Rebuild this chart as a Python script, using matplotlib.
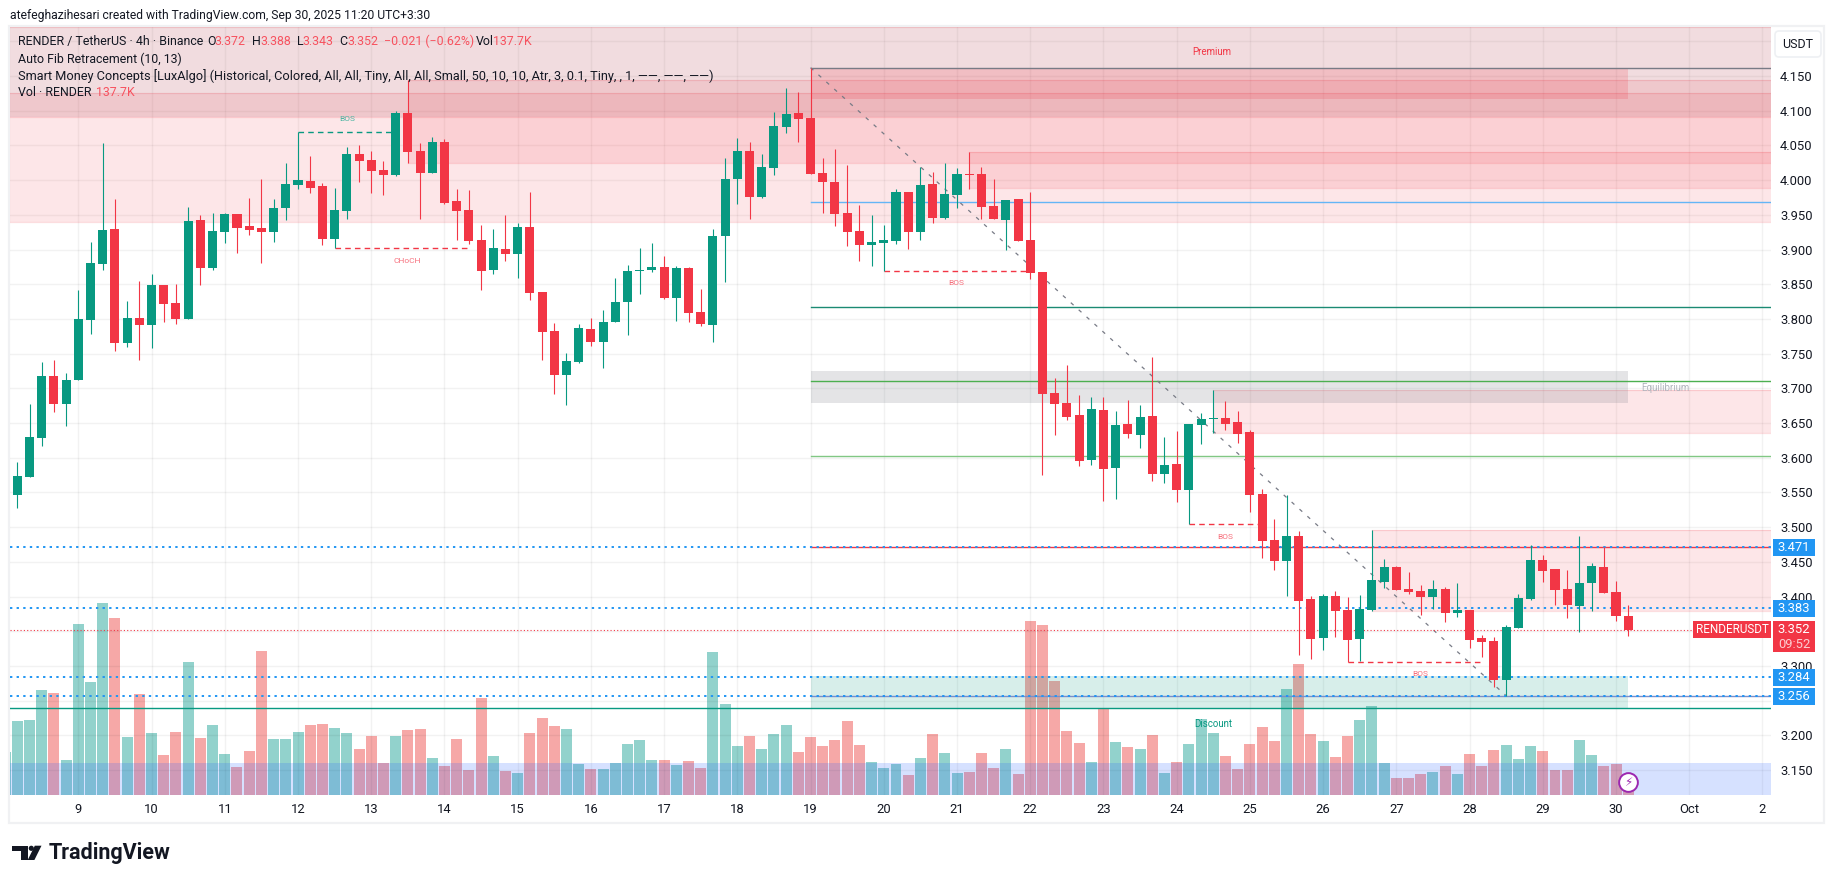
import matplotlib
matplotlib.use("Agg")
import matplotlib.pyplot as plt
from matplotlib.patches import Rectangle, Polygon, Circle, FancyBboxPatch
from matplotlib.transforms import blended_transform_factory

# ---------- data ----------
opens = [3.546,3.572,3.628,3.718,3.677,3.712,3.798,3.879,3.930,3.765,
3.801,3.791,3.849,3.823,3.800,3.943,3.873,3.925,3.951,3.934,
3.931,3.925,3.960,3.993,3.999,3.991,3.915,3.955,4.038,4.029,
4.015,4.007,4.097,4.042,4.010,4.055,3.970,3.957,3.914,3.870,
3.901,3.893,3.932,3.839,3.783,3.719,3.738,3.785,3.767,3.796,
3.824,3.869,3.871,3.875,3.830,3.873,3.810,3.791,3.920,4.002,
4.042,3.976,4.017,4.077,4.097,4.090,4.010,3.997,3.953,3.927,
3.907,3.909,3.912,3.983,3.925,3.994,3.945,3.979,4.009,4.009,
3.963,3.943,3.973,3.914,3.868,3.693,3.679,3.662,3.597,3.669,
3.585,3.649,3.633,3.660,3.577,3.591,3.553,3.647,3.656,3.657,
3.651,3.637,3.548,3.481,3.451,3.487,3.396,3.340,3.401,3.381,
3.339,3.381,3.421,3.443,3.411,3.408,3.399,3.411,3.376,3.381,
3.340,3.336,3.280,3.355,3.396,3.453,3.440,3.411,3.386,3.419,
3.443,3.407,3.372]
closes = [3.574,3.630,3.718,3.677,3.712,3.800,3.880,3.928,3.765,3.801,
3.791,3.849,3.821,3.800,3.941,3.873,3.927,3.951,3.931,3.928,
3.925,3.960,3.994,4.000,3.989,3.915,3.957,4.038,4.028,4.013,
4.007,4.097,4.040,4.010,4.055,3.967,3.955,3.912,3.869,3.902,
3.893,3.932,3.837,3.781,3.719,3.739,3.787,3.767,3.796,3.824,
3.869,3.870,3.875,3.830,3.873,3.809,3.793,3.920,4.002,4.042,
3.976,4.019,4.078,4.095,4.088,4.009,3.997,3.951,3.925,3.907,
3.911,3.914,3.983,3.925,3.993,3.945,3.980,4.009,4.007,3.961,
3.944,3.971,3.912,3.866,3.692,3.677,3.659,3.595,3.670,3.584,
3.647,3.634,3.659,3.577,3.590,3.553,3.649,3.656,3.657,3.649,
3.634,3.546,3.480,3.451,3.487,3.394,3.339,3.401,3.379,3.337,
3.382,3.424,3.443,3.409,3.407,3.399,3.411,3.376,3.381,3.337,
3.334,3.280,3.356,3.398,3.453,3.437,3.409,3.388,3.419,3.444,
3.405,3.372,3.352]
highs = [3.594,3.677,3.738,3.741,3.722,3.842,3.911,4.053,3.973,3.826,
3.855,3.865,3.849,3.850,3.961,3.950,3.953,3.953,3.951,3.974,
4.002,3.973,4.025,4.070,4.035,3.996,3.989,4.048,4.051,4.042,
4.028,4.100,4.144,4.053,4.062,4.059,3.987,3.986,3.935,3.930,
3.950,3.938,3.983,3.839,3.794,3.751,3.793,3.801,3.813,3.859,
3.878,3.902,3.909,3.891,3.876,3.875,3.843,3.930,4.032,4.061,
4.055,4.038,4.098,4.133,4.127,4.162,4.032,4.045,4.022,3.964,
3.950,3.935,3.987,3.983,4.019,4.012,4.025,4.017,4.041,4.019,
4.002,3.971,3.973,3.983,3.868,3.715,3.734,3.690,3.688,3.688,
3.667,3.683,3.676,3.745,3.630,3.639,3.649,3.664,3.697,3.682,
3.667,3.640,3.555,3.512,3.546,3.494,3.401,3.404,3.408,3.399,
3.402,3.496,3.454,3.444,3.435,3.417,3.424,3.414,3.419,3.381,
3.345,3.342,3.359,3.404,3.474,3.460,3.440,3.438,3.487,3.448,
3.471,3.422,3.388]
lows = [3.528,3.572,3.617,3.666,3.646,3.712,3.778,3.870,3.754,3.759,
3.741,3.758,3.796,3.793,3.800,3.849,3.870,3.909,3.895,3.921,
3.881,3.911,3.942,3.987,3.981,3.906,3.902,3.944,3.997,3.981,
3.979,4.006,4.025,3.944,4.010,3.966,3.914,3.908,3.842,3.865,
3.883,3.859,3.827,3.741,3.692,3.676,3.736,3.761,3.729,3.796,
3.777,3.836,3.868,3.829,3.797,3.796,3.790,3.767,3.853,3.966,
3.944,3.974,4.007,4.068,4.055,4.009,3.953,3.934,3.905,3.883,
3.876,3.869,3.908,3.901,3.914,3.938,3.944,3.960,3.987,3.944,
3.944,3.899,3.912,3.858,3.575,3.633,3.654,3.588,3.590,3.538,
3.541,3.628,3.614,3.567,3.564,3.536,3.504,3.620,3.636,3.640,
3.621,3.522,3.455,3.438,3.401,3.316,3.310,3.323,3.342,3.305,
3.307,3.379,3.412,3.409,3.404,3.373,3.382,3.363,3.370,3.326,
3.313,3.270,3.257,3.355,3.395,3.421,3.388,3.369,3.349,3.379,
3.405,3.365,3.343]
volumes_k = [666,675,945,918,315,1539,1017,1728,1593,522,
909,558,360,567,1197,513,630,369,252,396,
1296,504,504,567,630,639,603,558,414,531,
288,531,585,594,333,261,504,225,873,351,
216,198,558,693,621,594,279,234,234,288,
459,495,315,315,270,306,243,1287,819,441,
531,414,549,630,387,522,441,495,666,450,
297,243,279,180,333,549,378,198,207,378,
243,414,189,1566,1530,1026,576,468,297,774,
477,432,414,540,198,297,459,684,558,351,
234,459,612,486,954,1179,549,486,342,531,
675,801,288,153,153,189,207,261,189,369,
261,405,450,324,441,396,225,225,495,360,
261,279,137.7]
volume_before_first = 387

day_bars = [5,11,17,23,29,35,41,47,53,59,65,71,77,83,89,95,101,107,113,119,125,131,137,143]
day_labels = ['9','10','11','12','13','14','15','16','17','18','19','20','21','22','23','24',
              '25','26','27','28','29','30','Oct','2']
price_ticks = [3.15,3.20,3.25,3.30,3.35,3.40,3.45,3.50,3.55,3.60,3.65,3.70,3.75,3.80,3.85,3.90,3.95,4.00,4.05,4.10,4.15,4.20]
price_labels = ['3.150','3.200','','3.300','','3.400','3.450','3.500','3.550','3.600','3.650','3.700',
                '3.750','3.800','3.850','3.900','3.950','4.000','4.050','4.100','4.150','']

alert_levels = [3.471,3.383,3.284,3.256]
last_price = 3.352

# zones: first bar, last bar (None = chart edge), low, high
red_zones = [(None,None,3.940,4.2206),(None,None,4.091,4.125),(32,None,4.025,4.144),
             (78,None,3.988,4.040),(98,None,3.636,3.697),(111,None,3.379,3.496)]
premium_fill = (None,None,4.091,4.2206)
premium_box = (65,132,4.117,4.162)
equilibrium_box = (65,132,3.679,3.725)
discount_box = (65,132,3.239,3.285)
blue_box = (None,None,3.114,3.160)
fib_levels = [(4.162,'#787b86'),(3.969,'#64b5f6'),(3.817,'#1b8a73'),(3.710,'#4caf50'),
              (3.603,'#81c784'),(3.471,'#f23645'),(3.256,'#7e8ec8')]
trend_start = (65,4.162)
trend_end = (122,3.257)
structure = [(23,31,4.070,'BOS','g',347,118.7),(26,37,3.902,'CHoCH','r',407,260.7),
             (71,83,3.869,'BOS','r',956.7,282.7),(96,102,3.504,'BOS','r',1225,536.7),
             (109,120,3.305,'BOS','r',1420.6,674.3)]

# ---------- style ----------
W, H = 1835, 883
GREEN, RED, BLUE = '#089981', '#f23645', '#2196f3'
FONT = 'Roboto'
plt.rcParams['font.family'] = FONT
fig = plt.figure(figsize=(W/100, H/100), dpi=100, facecolor='white')
L, R, T, B = 10, 1771, 27, 795
ax2 = fig.add_axes([L/W, 1-B/H, (R-L)/W, (B-T)/H])
ax = fig.add_axes([L/W, 1-B/H, (R-L)/W, (B-T)/H], sharex=None)
ax.set_zorder(2); ax2.set_zorder(1); ax.patch.set_visible(False)
XMIN, XMAX = -0.6, 143.7
ax.set_xlim(XMIN, XMAX); ax2.set_xlim(XMIN, XMAX)
ax.set_ylim(3.114, 4.2206); ax2.set_ylim(0, 6912)
ax2.axis('off')

def px(x, y):
    return x/W, 1-y/H

def ftext(x, y, s, **kw):
    kw.setdefault('va', 'center'); kw.setdefault('color', '#131722'); kw.setdefault('fontsize', 8.9)
    fx, fy = px(x, y)
    return fig.text(fx, fy, s, **kw)

# volume
nb = len(opens)
vx = list(range(-1, nb))
vc = [GREEN] + [GREEN if c >= o else RED for o, c in zip(opens, closes)]
vc = [('#26a69a' if c == GREEN else '#ef5350') for c in vc]
ax2.bar(vx, [volume_before_first] + volumes_k, width=0.9, color=vc, alpha=0.5, linewidth=0)

# grid
ax.set_yticks(price_ticks); ax.set_yticklabels(price_labels)
ax.set_xticks(day_bars); ax.set_xticklabels(day_labels)
ax.yaxis.tick_right()
ax.tick_params(axis='y', length=0, pad=6.5, labelsize=9.4, labelcolor='#131722')
ax.tick_params(axis='x', length=0, pad=6, labelsize=9.4, labelcolor='#131722')
ax.grid(True, color='black', alpha=0.05, lw=1.0, zorder=0)
ax.set_axisbelow(True)
for s in ax.spines.values():
    s.set_visible(False)

def zone(z, color, alpha, edge=True, zo=1):
    a, b, lo, hi = z
    a = XMIN if a is None else a
    b = XMAX if b is None else b
    ax.add_patch(Rectangle((a, lo), b-a, hi-lo, facecolor=color, alpha=alpha, lw=0, zorder=zo))
    if edge:
        ax.plot([a, b], [lo, lo], color=color, alpha=alpha+0.05, lw=0.9, zorder=zo)
        ax.plot([a, b], [hi, hi], color=color, alpha=alpha+0.05, lw=0.9, zorder=zo)

for z in red_zones:
    zone(z, RED, 0.12)
zone(premium_fill, '#787b86', 0.09, edge=False)
zone(premium_box, RED, 0.18, edge=False)
zone(equilibrium_box, '#787b86', 0.20, edge=False)
zone(discount_box, GREEN, 0.16, edge=False)
zone(blue_box, '#2962ff', 0.19, edge=False, zo=1)

# fib levels
for p, c in fib_levels:
    ax.plot([65, XMAX], [p, p], color=c, lw=1.0, zorder=2)
ax.plot([XMIN, XMAX], [3.239, 3.239], color=GREEN, lw=1.0, zorder=2)
ax.plot([trend_start[0], trend_end[0]], [trend_start[1], trend_end[1]], color='#787b86',
        lw=0.9, ls=(0, (3, 5.5)), zorder=2.2)

# alert + price lines
for p in alert_levels:
    ax.plot([XMIN, XMAX], [p, p], color=BLUE, lw=1.4, ls=(0, (1.2, 2.2)), zorder=2.4)
ax.plot([XMIN, XMAX], [last_price, last_price], color=RED, lw=0.8, ls=(0, (1, 2)), zorder=2.4)

# structure
for a, b, p, t, c, tx, ty in structure:
    col = GREEN if c == 'g' else RED
    ax.plot([a, b], [p, p], color=col, lw=1.0, ls=(0, (4, 3)), zorder=2.5)
    ftext(tx, ty, t, color=('#4fb5a3' if c == 'g' else '#f7707d'), fontsize=6, ha='center')

# candles
for i, (o, h, l, c) in enumerate(zip(opens, highs, lows, closes)):
    col = GREEN if c >= o else RED
    ax.plot([i, i], [l, h], color=col, lw=0.8, zorder=4, solid_capstyle='butt')
    lo, hi = min(o, c), max(o, c)
    ax.add_patch(Rectangle((i-0.37, lo), 0.74, max(hi-lo, 0.0015), facecolor=col, edgecolor='none', zorder=4.1))

# zone labels
ftext(1212, 51.7, 'Premium', color=RED, fontsize=7, ha='center')
ftext(1213, 723.7, 'Discount', color=GREEN, fontsize=7, ha='center')
ftext(1665, 387.7, 'Equilibrium', color='#b2b5be', fontsize=7, ha='center')

# flash icon
bar_last = nb - 1
ax.plot([bar_last], [3.1327], marker='o', ms=13.5, mfc='white', mec='#9c27b0', mew=1.4, zorder=6)
ax.text(bar_last, 3.1327, '\u26a1', family='DejaVu Sans', color='#9c27b0', fontsize=8.5,
        ha='center', va='center', zorder=7)

# price boxes on the axis
tr = blended_transform_factory(fig.transFigure, ax.transData)
def box(x0, x1, p, h_px, color, zo=10):
    h = h_px/694
    ax.add_patch(Rectangle((x0/W, p-h/2), (x1-x0)/W, h, transform=tr, facecolor=color, lw=0,
                           clip_on=False, zorder=zo))
def boxtext(x, p, s, fs=9.4, **kw):
    ax.text(x/W, p, s, transform=tr, color='white', fontsize=fs, va='center', ha='center',
            clip_on=False, zorder=11, **kw)
for p in alert_levels:
    box(1772.5, 1815, p, 17, BLUE)
    boxtext(1794, p, f'{p:.3f}')
box(1772.5, 1815, last_price - 7.1/694, 31, RED)
boxtext(1794, last_price, f'{last_price:.3f}')
boxtext(1794, last_price - 14.5/694, '09:52', alpha=0.75)
box(1693.4, 1770.5, last_price, 17, RED)
boxtext(1732, last_price, 'RENDERUSDT', fs=8.4)

# header + legend
ftext(10, 15, 'atefeghazihesari created with TradingView.com, Sep 30, 2025 11:20 UTC+3:30', fontsize=8.7)
LEG_RED = '#f7525f'
ftext(18, 41.7, 'RENDER / TetherUS \u00b7 4h \u00b7 Binance')
for x, s, c in [(207.6,'O',None),(214.7,'3.372',LEG_RED),(252,'H',None),(260,'3.388',LEG_RED),
                (296.6,'L',None),(302.5,'3.343',LEG_RED),(339,'C',None),(347,'3.352',LEG_RED),
                (383.5,'\u22120.021 (\u22120.62%)',LEG_RED),(476,'Vol',None),(492.7,'137.7K',LEG_RED)]:
    ftext(x, 41.7, s, color=c or '#131722')
ftext(18, 59, 'Auto Fib Retracement (10, 13)')
ftext(18, 76, 'Smart Money Concepts [LuxAlgo] (Historical, Colored, All, All, Tiny, All, All, Small, 50, 10, 10, Atr, 3, 0.1, Tiny, , 1, \u2014\u2014, \u2014\u2014, \u2014\u2014)', fontsize=9.15)
ftext(18, 93, 'Vol \u00b7 RENDER')
ftext(95.7, 93, '137.7K', color=LEG_RED)

# USDT button
fig.add_artist(FancyBboxPatch((1775, H-57), 46, 26, boxstyle='round,pad=0,rounding_size=4',
                              transform=None, facecolor='white', edgecolor='#eef0f3', lw=1.2, zorder=5))
ftext(1798, 44, 'USDT', ha='center', fontsize=9, zorder=6)

# outer frame
fig.add_artist(Rectangle((9, H-823), 1815, 797, transform=None, facecolor='none',
                         edgecolor='#f0f1f3', lw=1.6, zorder=1))

# logo
def fpoly(pts, **kw):
    fig.add_artist(Polygon([(x, H-y) for x, y in pts], closed=True, transform=None, facecolor='#131722', lw=0, **kw))
fpoly([(11.9,845.7),(27.7,845.7),(27.7,860),(21,860),(21,850.7),(11.9,850.7)])
fpoly([(34.8,845.7),(41.5,845.7),(34.4,860),(27.7,860)])
fig.add_artist(Circle((31.3, H-848.3), 2.6, transform=None, facecolor='#131722', lw=0))
ftext(48.5, 853, 'TradingView', fontsize=15.5, fontweight='bold')

fig.savefig('out.png', dpi=100)
